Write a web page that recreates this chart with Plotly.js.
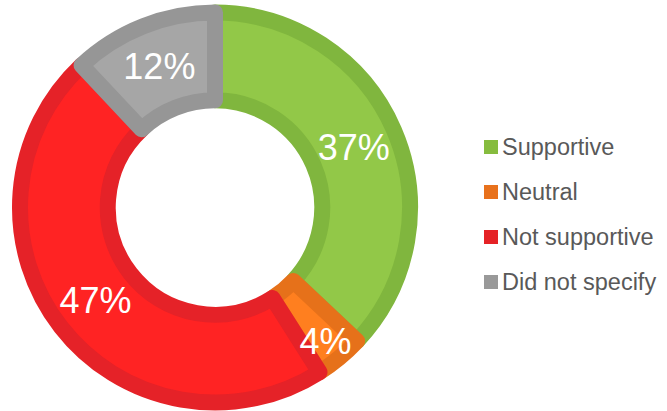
<!DOCTYPE html>
<html>
<head>
<meta charset="utf-8">
<script src="https://cdn.plot.ly/plotly-3.0.1.min.js"></script>
<style>html,body{margin:0;padding:0;background:#fff;}#chart{width:667px;height:411px;}</style>
</head>
<body>
<div id="chart"></div>
<script>
// Data
var categories = ["Supportive", "Neutral", "Not supportive", "Did not specify"];
var shares = [37, 4, 47, 12];
// Styles
var fillColors = ["#92C848", "#FF7F1F", "#FF2323", "#A6A6A6"];
var edgeColors = ["#80B63E", "#E6711A", "#E52228", "#969696"];
var legendColors = ["#86BC3E", "#E8711C", "#E52226", "#999999"];

var W = 667, H = 411;
var cx = 215, cy = 207.5, rPath = 195;
var domain = {
  x: [(cx - rPath) / W, (cx + rPath) / W],
  y: [((H - cy) - rPath) / H, ((H - cy) + rPath) / H]
};
var labelFont = { family: "Liberation Sans, Arial, sans-serif", size: 36, color: "#ffffff" };

// Ring with coloured slices
var ring = {
  type: "pie",
  labels: categories,
  values: shares,
  sort: false,
  direction: "clockwise",
  rotation: 0,
  hole: 0.55,
  marker: { colors: fillColors, line: { color: edgeColors, width: 16 } },
  textinfo: "none",
  hoverinfo: "none",
  showlegend: false,
  domain: domain
};

// Transparent copy on top, carrying the percentage labels
var labelsTrace = {
  type: "pie",
  labels: categories,
  values: shares,
  sort: false,
  direction: "clockwise",
  rotation: 0,
  hole: 0.55,
  marker: { colors: categories.map(function () { return "rgba(0,0,0,0)"; }), line: { width: 0 } },
  texttemplate: "%{value}%",
  textposition: "inside",
  insidetextorientation: "horizontal",
  textfont: labelFont,
  hoverinfo: "none",
  showlegend: false,
  domain: domain
};

// Manual legend built from categories/colors
var legY0 = 147, legStep = 45, sq = 14, sqX = 484, txtX = 500;
var shapes = [], annotations = [];
categories.forEach(function (c, i) {
  var yc = legY0 + i * legStep;
  shapes.push({
    type: "rect", xref: "paper", yref: "paper",
    x0: sqX / W, x1: (sqX + sq) / W,
    y0: (H - yc - sq / 2) / H, y1: (H - yc + sq / 2) / H,
    fillcolor: legendColors[i], line: { width: 0 }
  });
  annotations.push({
    xref: "paper", yref: "paper",
    x: txtX / W, y: (H - yc) / H,
    xanchor: "left", yanchor: "middle",
    showarrow: false, text: c,
    font: { family: "Liberation Sans, Arial, sans-serif", size: 23.5, color: "#595959" }
  });
});

var layout = {
  width: W, height: H,
  margin: { l: 0, r: 0, t: 0, b: 0 },
  paper_bgcolor: "#ffffff",
  showlegend: false,
  uniformtext: { mode: "show", minsize: 36 },
  shapes: shapes,
  annotations: annotations
};

Plotly.newPlot("chart", [ring, labelsTrace], layout, { displayModeBar: false, staticPlot: true });
</script>
</body>
</html>
